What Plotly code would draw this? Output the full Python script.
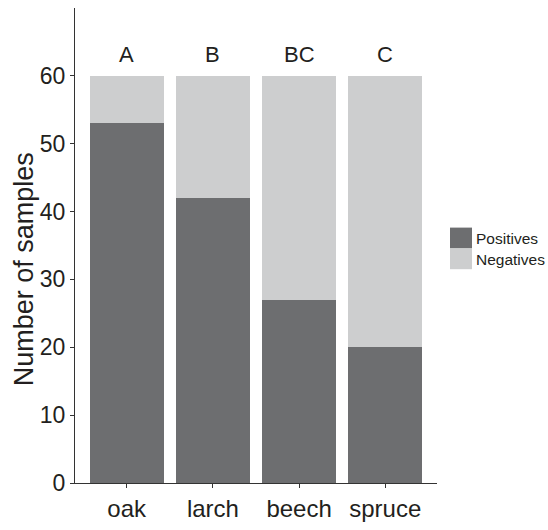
import plotly.graph_objects as go

categories = ["oak", "larch", "beech", "spruce"]
positives = [53, 42, 27, 20]
negatives = [7, 18, 33, 40]
letters = ["A", "B", "BC", "C"]
y_ticks = [0, 10, 20, 30, 40, 50, 60]

dark = "#6d6e70"
light = "#cdcecf"
txt = "#231f20"
font = "Liberation Sans, Arial, sans-serif"

fig = go.Figure()
fig.add_trace(go.Bar(x=categories, y=positives, name="Positives", marker=dict(color=dark, line=dict(width=0))))
fig.add_trace(go.Bar(x=categories, y=negatives, name="Negatives", marker=dict(color=light, line=dict(width=0))))

totals = [p + n for p, n in zip(positives, negatives)]
for c, t, l in zip(categories, totals, letters):
    fig.add_annotation(x=c, y=t, text=l, showarrow=False, yanchor="bottom", yshift=7,
                       font=dict(size=22, color=txt, family=font))

# y axis title
fig.add_annotation(xref="paper", yref="paper", x=0, xshift=-51, xanchor="center", yanchor="middle",
                   y=0.45, text="Number of samples",
                   textangle=-90, showarrow=False, font=dict(size=27, color=txt, family=font))

# manual legend
leg = [("Positives", dark), ("Negatives", light)]
for i, (name, col) in enumerate(leg):
    y0 = 235 + i * 21.5
    fig.add_shape(type="rect", xref="paper", yref="paper",
                  x0=(450 - 75) / 362, x1=(472 - 75) / 362,
                  y0=(499 - (y0 + 21.5)) / 491, y1=(499 - y0) / 491,
                  line=dict(width=0), fillcolor=col)
    fig.add_annotation(xref="paper", yref="paper", x=(474 - 75) / 362, y=(499 - (y0 + 11)) / 491,
                       xanchor="left", yanchor="middle", text=name, showarrow=False,
                       font=dict(size=15.5, color=txt, family=font))

fig.update_layout(
    width=548, height=530,
    margin=dict(l=75, r=111, t=8, b=31),
    barmode="stack", bargap=0.14,
    plot_bgcolor="white", paper_bgcolor="white",
    showlegend=False,
    font=dict(family=font, color=txt),
)
fig.update_xaxes(range=[-0.6, 3.6], showline=True, linecolor="#333333", linewidth=1.3,
                 ticks="outside", ticklen=4, tickcolor="#333333", tickwidth=1,
                 tickfont=dict(size=24, color=txt, family=font), showgrid=False, zeroline=False)
fig.update_yaxes(range=[0, 70], tickvals=y_ticks, showline=True, linecolor="#333333", linewidth=1.3,
                 ticks="outside", ticklen=4, tickcolor="#333333", tickwidth=1,
                 tickfont=dict(size=23, color=txt, family=font), showgrid=False, zeroline=False)

fig.write_html("out.html")
